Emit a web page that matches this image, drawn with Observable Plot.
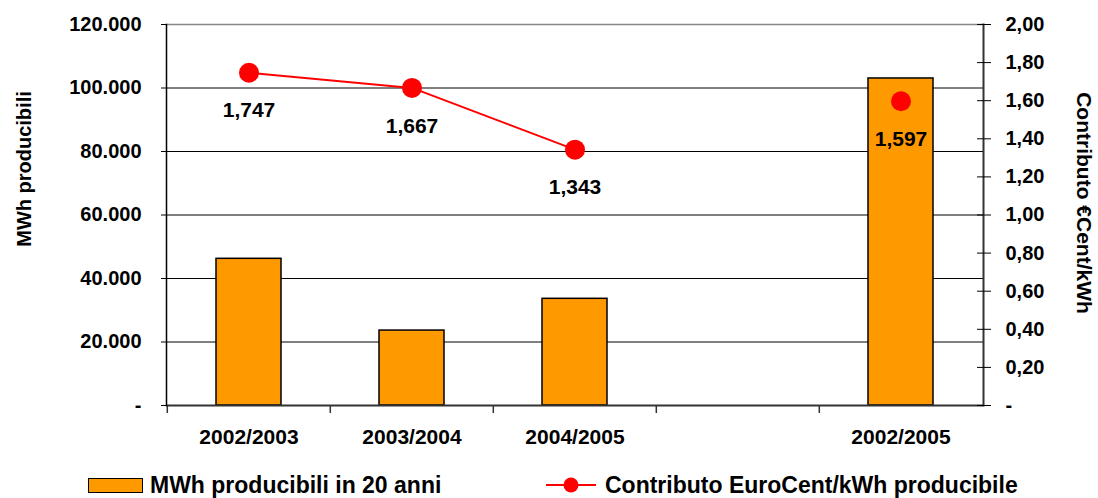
<!DOCTYPE html>
<html>
<head>
<meta charset="utf-8">
<script src="https://cdn.jsdelivr.net/npm/d3@7"></script>
<script src="https://cdn.jsdelivr.net/npm/@observablehq/plot@0.6"></script>
<style>
  body { margin: 0; background: #fff; }
  #legend { position: relative; width: 1098px; height: 36px; font: bold 23px "Liberation Sans", Arial, sans-serif; color: #000; }
  #legend > * { position: absolute; }
  #legend span { line-height: 24px; top: 11px; white-space: nowrap; }
</style>
</head>
<body>
<div id="chart"></div>
<div id="legend">
  <div style="left:88px;top:16px;width:55px;height:15px;background:#FF9900;border:1.5px solid #000;box-sizing:border-box"></div>
  <span style="left:150px">MWh producibili in 20 anni</span>
  <svg style="left:546px;top:13px" width="50" height="20"><line x1="0" x2="50" y1="10" y2="10" stroke="#FF0000" stroke-width="2"/><circle cx="25" cy="10" r="7.5" fill="#FF0000"/></svg>
  <span style="left:605px">Contributo EuroCent/kWh producibile</span>
</div>
<script>
// Categories (the empty slot separates the yearly figures from the total)
const periods = ["2002/2003", "2003/2004", "2004/2005", "2002/2005"];
const slots = ["2002/2003", "2003/2004", "2004/2005", "", "2002/2005"];
// MWh producibili in 20 anni
const mwh = [46200, 23600, 33600, 103000];
// Contributo EuroCent/kWh producibile (yearly series + overall value)
const contributo = [1.747, 1.667, 1.343];
const contributoTot = 1.597;
// Axis ticks
const leftTicks = [0, 20000, 40000, 60000, 80000, 100000, 120000];
const rightTicks = [0, 0.2, 0.4, 0.6, 0.8, 1.0, 1.2, 1.4, 1.6, 1.8, 2.0];

// The right axis (0–2,00 €Cent) shares the left y scale (0–120.000 MWh)
const mwhPerCent = 120000 / 2;
const toY = v => v * mwhPerCent;

const fmtLeft = d => d === 0 ? "-" : d3.format(",")(d).replace(/,/g, ".");
const fmtRight = v => Math.abs(v) < 1e-9 ? "-" : d3.format(".2f")(v).replace(".", ",");
const fmtVal = v => d3.format(".3f")(v).replace(".", ",");

const bars = periods.map((p, i) => ({period: p, mwh: mwh[i]}));
const linePts = contributo.map((c, i) => ({period: periods[i], c}));
const allPts = [...linePts, {period: periods[3], c: contributoTot}];

const width = 1098, height = 462;
const marginLeft = 166, marginRight = 115, marginTop = 24, marginBottom = 57;
const step = (width - marginLeft - marginRight) / slots.length;

const chart = Plot.plot({
  width, height, marginLeft, marginRight, marginTop, marginBottom,
  style: {fontFamily: "'Liberation Sans', Arial, sans-serif", fontSize: "20px", fontWeight: "bold", color: "#000", background: "#fff"},
  x: {type: "band", domain: slots, paddingInner: 0.6, paddingOuter: 0.3, axis: null},
  y: {domain: [0, 120000], axis: null},
  marks: [
    Plot.ruleY(leftTicks.filter(d => d > 0 && d < 120000), {stroke: "#000", strokeWidth: 1}),
    Plot.ruleY([120000], {stroke: "#888", strokeWidth: 1.5}),
    Plot.barY(bars, {x: "period", y: "mwh", fill: "#FF9900", stroke: "#000", strokeWidth: 1.5}),
    Plot.ruleY([0], {stroke: "#333", strokeWidth: 2}),
    Plot.ruleX(slots, {x: d => d, y1: 0, y2: 0, insetBottom: -8, dx: -step / 2, stroke: "#333", strokeWidth: 1.5}),
    Plot.frame({anchor: "left", stroke: "#000", strokeWidth: 1.5}),
    Plot.frame({anchor: "right", stroke: "#333", strokeWidth: 2}),
    Plot.axisX({tickSize: 0, tickPadding: 24, fontSize: 21, tickFormat: d => d, label: null}),
    Plot.axisY(leftTicks, {anchor: "left", tickSize: 5, tickPadding: 20, tickFormat: fmtLeft, label: null, stroke: "#000"}),
    Plot.axisY(rightTicks.map(toY), {anchor: "right", tickSize: 14, insetRight: 7, tickPadding: 15, tickFormat: d => fmtRight(d / mwhPerCent), label: null, stroke: "#000"}),
    Plot.line(linePts, {x: "period", y: d => toY(d.c), stroke: "#FF0000", strokeWidth: 2}),
    Plot.dot(allPts, {x: "period", y: d => toY(d.c), r: 10, fill: "#FF0000", stroke: null}),
    Plot.text(allPts, {x: "period", y: d => toY(d.c), text: d => fmtVal(d.c), dy: 38, fontSize: 21}),
    Plot.text(["MWh producibili"], {frameAnchor: "left", textAnchor: "middle", rotate: -90, dx: -142, dy: -46, fontSize: 20}),
    Plot.text(["Contributo €Cent/kWh"], {frameAnchor: "right", textAnchor: "middle", rotate: 90, dx: 100, dy: -12, fontSize: 21})
  ]
});
document.getElementById("chart").appendChild(chart);
</script>
</body>
</html>
